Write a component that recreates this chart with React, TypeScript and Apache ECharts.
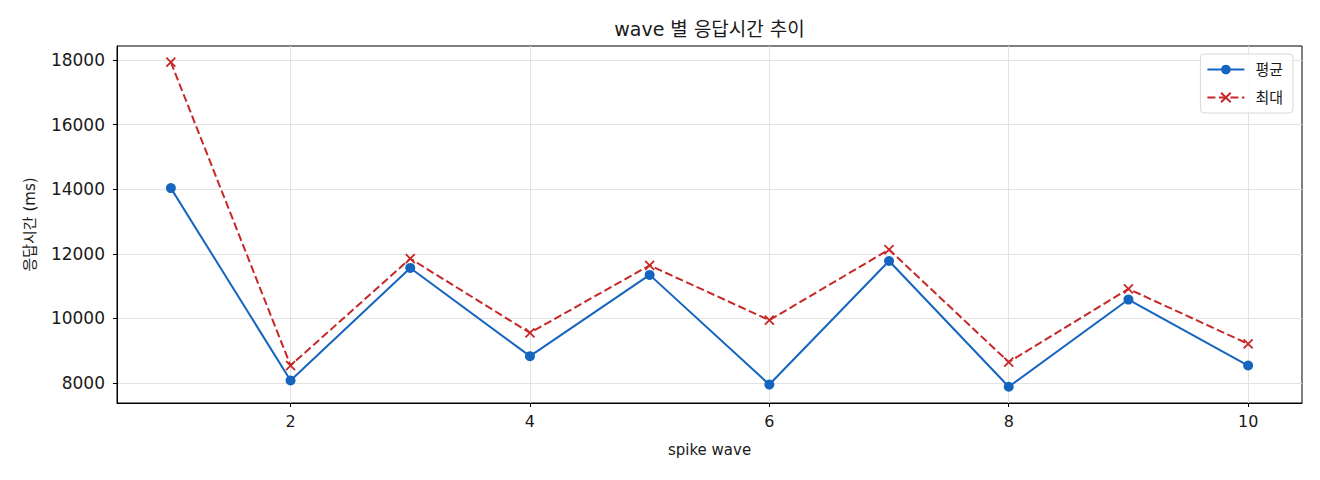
import React, { useEffect, useRef } from "react";
import * as echarts from "echarts";

const waves = [1, 2, 3, 4, 5, 6, 7, 8, 9, 10];
const avgValues = [14035, 8070, 11560, 8825, 11345, 7945, 11775, 7876, 10580, 8535];
const maxValues = [17940, 8535, 11850, 9548, 11640, 9940, 12130, 8640, 10910, 9205];
const xTicks = [2, 4, 6, 8, 10];
const yTicks = [8000, 10000, 12000, 14000, 16000, 18000];

const FONT = "'DejaVu Sans', 'Noto Sans CJK KR', sans-serif";
const TEXT = "#1a1a1a";

export default function App() {
  const ref = useRef<HTMLDivElement>(null);
  useEffect(() => {
    if (!ref.current) return;
    const chart = echarts.init(ref.current, undefined, { renderer: "svg" });
    const avgData = waves.map((w, i) => [w, avgValues[i]]);
    const maxData = waves.map((w, i) => [w, maxValues[i]]);
    chart.setOption({
      animation: false,
      backgroundColor: "#ffffff",
      textStyle: { fontFamily: FONT },
      graphic: [
        {
          type: "text",
          x: 709.5,
          y: 29,
          style: {
            text: "wave 별 응답시간 추이",
            fontFamily: FONT,
            fontSize: 19,
            fill: TEXT,
            align: "center",
            verticalAlign: "middle",
          },
        },
      ],
      grid: {
        left: 117,
        right: 18,
        top: 46,
        bottom: 77,
        show: true,
        borderColor: "#000",
        borderWidth: 1,
        containLabel: false,
      },
      legend: {
        orient: "vertical",
        right: 27,
        top: 54,
        itemWidth: 37,
        itemHeight: 12,
        itemGap: 13,
        padding: [8, 10, 8, 6],
        borderColor: "#d8d8d8",
        borderWidth: 1,
        borderRadius: 4,
        backgroundColor: "rgba(255,255,255,0.85)",
        textStyle: { fontFamily: FONT, fontSize: 15, color: TEXT, padding: [0, 0, 0, 6] },
        data: ["평균", "최대"],
      },
      xAxis: {
        type: "value",
        min: 0.55,
        max: 10.45,
        name: "spike wave",
        nameLocation: "middle",
        nameGap: 39,
        nameTextStyle: { fontFamily: FONT, fontSize: 15, color: TEXT },
        axisLine: { show: true, lineStyle: { color: "#000", width: 1 } },
        axisTick: { show: true, length: 4, customValues: xTicks, lineStyle: { color: "#000" } },
        axisLabel: { customValues: xTicks, fontFamily: FONT, fontSize: 16, color: TEXT, margin: 10 },
        splitLine: { show: true, lineStyle: { color: "#e3e3e3", width: 1 } },
      },
      yAxis: {
        type: "value",
        min: 7373,
        max: 18441,
        name: "응답시간 (ms)",
        nameLocation: "middle",
        nameGap: 80,
        nameTextStyle: { fontFamily: FONT, fontSize: 15, color: TEXT },
        axisLine: { show: true, lineStyle: { color: "#000", width: 1 } },
        axisTick: { show: true, length: 4, customValues: yTicks, lineStyle: { color: "#000" } },
        axisLabel: {
          customValues: yTicks,
          formatter: (v: number) => String(v),
          fontFamily: FONT,
          fontSize: 17,
          color: TEXT,
          margin: 12,
        },
        splitLine: { show: true, lineStyle: { color: "#e3e3e3", width: 1 } },
      },
      series: [
        {
          name: "평균",
          type: "line",
          data: avgData,
          symbol: "circle",
          symbolSize: 10,
          lineStyle: { color: "#1565C0", width: 2 },
          itemStyle: { color: "#1565C0" },
          z: 3,
        },
        {
          name: "최대",
          type: "line",
          data: maxData,
          symbol: "path://M0,0L10,10M10,0L0,10",
          symbolSize: 9,
          lineStyle: { color: "#C62828", width: 2, type: [8, 3.5] },
          itemStyle: { color: "#C62828", borderColor: "#C62828", borderWidth: 1.8 },
          z: 2,
        },
      ],
    });
    return () => chart.dispose();
  }, []);
  return (
    <div
      ref={ref}
      style={{ position: "fixed", left: 0, top: 0, width: 1320, height: 480 }}
    />
  );
}
